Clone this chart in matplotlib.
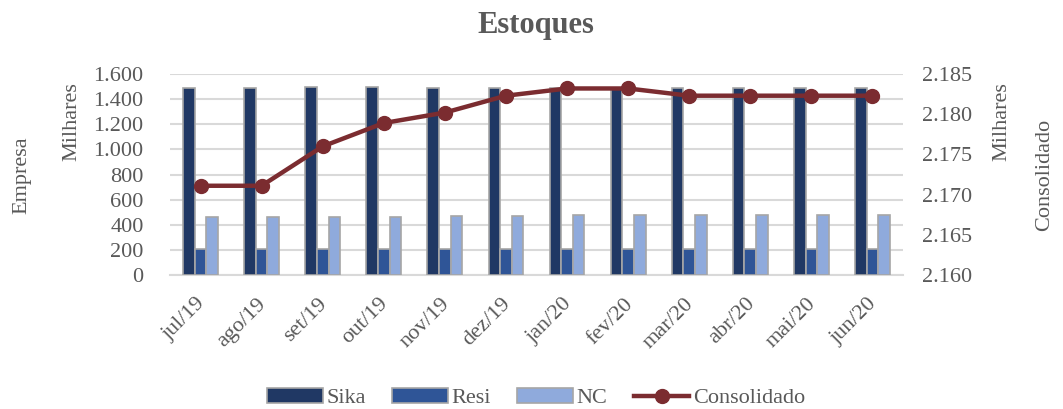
import matplotlib
matplotlib.use("Agg")
import matplotlib.pyplot as plt
import matplotlib.transforms as mtransforms
import numpy as np
from matplotlib.ticker import FuncFormatter, MultipleLocator

months = ["jul/19", "ago/19", "set/19", "out/19", "nov/19", "dez/19",
          "jan/20", "fev/20", "mar/20", "abr/20", "mai/20", "jun/20"]
sika = [1490, 1488, 1493, 1497, 1490, 1490, 1489, 1489, 1490, 1490, 1490, 1490]
resi = [205, 205, 205, 205, 205, 205, 205, 205, 205, 205, 205, 205]
nc = [460, 460, 461, 465, 468, 472, 474, 475, 476, 476, 476, 477]
consolidado = [2171.1, 2171.1, 2176.0, 2178.9, 2180.2, 2182.3,
               2183.2, 2183.2, 2182.3, 2182.3, 2182.3, 2182.3]

plt.rcParams['font.family'] = ['Liberation Serif', 'DejaVu Serif']
txt = '#595959'
grid = '#d9d9d9'
fs = 16

fig = plt.figure(figsize=(10.63, 4.09), dpi=100)
ax = fig.add_axes([170/1063, 1-275/409, (903-170)/1063, (275-74)/409])
ax2 = ax.twinx()

x = np.arange(len(months))
w = 0.19
edge = '#a6a6a6'
b1 = ax.bar(x - w, sika, w, color='#203864', edgecolor=edge, linewidth=1.2, label='Sika', zorder=3)
b2 = ax.bar(x, resi, w, color='#2f5597', edgecolor=edge, linewidth=1.2, label='Resi', zorder=3)
b3 = ax.bar(x + w, nc, w, color='#8faadc', edgecolor=edge, linewidth=1.2, label='NC', zorder=3)
l1, = ax2.plot(x, consolidado, color='#7b2c30', linewidth=3.2, marker='o',
               markersize=10, label='Consolidado', zorder=4)

ax.set_xlim(-0.5, len(months) - 0.5)
ax.set_ylim(0, 1600)
ax.yaxis.set_major_locator(MultipleLocator(200))
ax2.set_ylim(2160, 2185)
ax2.yaxis.set_major_locator(MultipleLocator(5))
fmt = FuncFormatter(lambda v, p: f"{v:,.0f}".replace(',', '.'))
ax.yaxis.set_major_formatter(fmt)
ax2.yaxis.set_major_formatter(fmt)

ax.grid(axis='y', color=grid, linewidth=1.5, zorder=0)
ax.set_axisbelow(True)
for a in (ax, ax2):
    for s in a.spines.values():
        s.set_visible(False)
    a.tick_params(length=0, colors=txt, labelsize=fs)
ax.spines['bottom'].set_visible(True)
ax.spines['bottom'].set_color(grid)
ax.spines['bottom'].set_linewidth(1.5)

ax.set_xticks(x)
ax.set_xticklabels(months, rotation=45, ha='right', rotation_mode='anchor')
ax.tick_params(axis='x', pad=14)
ax.tick_params(axis='y', pad=19)
ax2.tick_params(axis='y', pad=14)
offset = mtransforms.ScaledTranslation(-5/100, 0, fig.dpi_scale_trans)
for lab in ax.get_xticklabels():
    lab.set_transform(lab.get_transform() + offset)

fig.text(536/1063, 1-26/409, 'Estoques', ha='center', va='center',
         fontsize=22, fontweight='bold', color=txt)
fig.text(22/1063, 1-175/409, 'Empresa', rotation=90, ha='center', va='center',
         fontsize=fs, color=txt)
fig.text(72/1063, 1-122/409, 'Milhares', rotation=90, ha='center', va='center',
         fontsize=fs, color=txt)
fig.text(1002/1063, 1-122/409, 'Milhares', rotation=90, ha='center', va='center',
         fontsize=fs, color=txt)
fig.text(1045/1063, 1-175/409, 'Consolidado', rotation=90, ha='center', va='center',
         fontsize=fs, color=txt)

leg = fig.legend(handles=[b1, b2, b3, l1], loc='center', bbox_to_anchor=(536/1063, 1-398/409),
                 ncol=4, frameon=False, fontsize=fs, handlelength=2.5, handletextpad=0.15,
                 columnspacing=1.2, labelcolor=txt)

fig.savefig('out.png', dpi=100, facecolor='white')
